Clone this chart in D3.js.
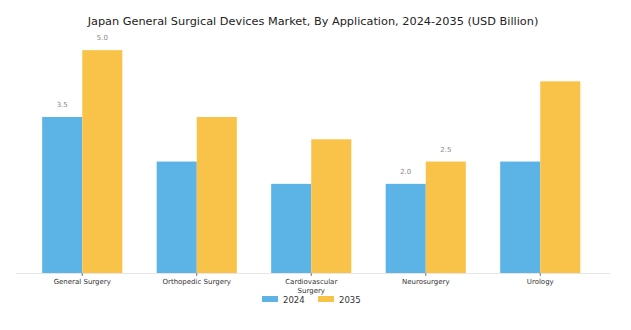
<!DOCTYPE html>
<html>
<head>
<meta charset="utf-8">
<script src="https://cdn.jsdelivr.net/npm/d3@7"></script>
<style>
  body { margin: 0; background: #fff; }
  text { font-family: "DejaVu Sans", sans-serif; }
</style>
</head>
<body>
<div id="chart"></div>
<script>
// chart data
const categories = ["General Surgery", "Orthopedic Surgery", "Cardiovascular Surgery", "Neurosurgery", "Urology"];
const seriesNames = ["2024", "2035"];
const values2024 = [3.5, 2.5, 2.0, 2.0, 2.5];
const values2035 = [5.0, 3.5, 3.0, 2.5, 4.3];
// value labels only shown on some bars
const labels2024 = ["3.5", null, null, "2.0", null];
const labels2035 = ["5.0", null, null, "2.5", null];

const width = 631, height = 330;
const baseline = 273;
const colors = ["#5cb3e6", "#f9c34a"];

const svg = d3.select("#chart").append("svg")
    .attr("width", width)
    .attr("height", height);

svg.append("text")
    .attr("x", 313)
    .attr("y", 25)
    .attr("text-anchor", "middle")
    .style("font-size", "11.3px")
    .attr("fill", "#222")
    .text("Japan General Surgical Devices Market, By Application, 2024-2035 (USD Billion)");

const x = d3.scaleBand()
    .domain(categories)
    .range([25, 597.5])
    .paddingInner(0.3)
    .paddingOuter(0.15);

const xs = d3.scaleBand()
    .domain(seriesNames)
    .range([0, x.bandwidth()]);

// 3.5 -> y 117
const y = d3.scaleLinear()
    .domain([0, 3.5])
    .range([baseline, 117]);

const rows = categories.map((c, i) => ({
    cat: c,
    vals: [
        { s: "2024", v: values2024[i], label: labels2024[i] },
        { s: "2035", v: values2035[i], label: labels2035[i] }
    ]
}));

const groups = svg.selectAll("g.grp")
    .data(rows)
    .enter()
    .append("g")
    .attr("class", "grp")
    .attr("transform", d => "translate(" + x(d.cat) + ",0)");

groups.selectAll("rect")
    .data(d => d.vals)
    .enter()
    .append("rect")
    .attr("x", d => xs(d.s))
    .attr("y", d => y(d.v))
    .attr("width", xs.bandwidth())
    .attr("height", d => baseline - y(d.v))
    .attr("fill", (d, i) => colors[i]);

groups.selectAll("text.val")
    .data(d => d.vals.filter(v => v.label))
    .enter()
    .append("text")
    .attr("class", "val")
    .attr("x", d => xs(d.s) + xs.bandwidth() / 2)
    .attr("y", d => y(d.v) - 10)
    .attr("text-anchor", "middle")
    .style("font-size", "7px")
    .attr("fill", "#888")
    .text(d => d.label);

// axis
svg.append("line")
    .attr("x1", 16).attr("x2", 610)
    .attr("y1", baseline + 0.5).attr("y2", baseline + 0.5)
    .attr("stroke", "#e6e6e6");

const axis = svg.append("g")
    .attr("transform", "translate(0," + baseline + ")")
    .call(d3.axisBottom(x).tickSize(3).tickPadding(3));
axis.select(".domain").remove();
axis.selectAll(".tick line").attr("stroke", "#777");
axis.selectAll(".tick text")
    .style("font-size", "7px")
    .style("font-family", "DejaVu Sans, sans-serif")
    .attr("fill", "#333")
    .each(function (d) {
        const t = d3.select(this);
        if (d === "Cardiovascular Surgery") {
            t.text(null);
            t.append("tspan").attr("x", 0).attr("dy", "0.71em").text("Cardiovascular");
            t.append("tspan").attr("x", 0).attr("dy", "1.25em").text("Surgery");
            t.attr("dy", null);
        }
    });

// legend
const legend = svg.append("g").attr("transform", "translate(262,296)");
const lx = [0, 56];
seriesNames.forEach((s, i) => {
    legend.append("rect")
        .attr("x", lx[i]).attr("y", 0)
        .attr("width", 16).attr("height", 6)
        .attr("fill", colors[i]);
    legend.append("text")
        .attr("x", lx[i] + 21).attr("y", 6.5)
        .style("font-size", "8.5px")
        .attr("fill", "#333")
        .text(s);
});
</script>
</body>
</html>
